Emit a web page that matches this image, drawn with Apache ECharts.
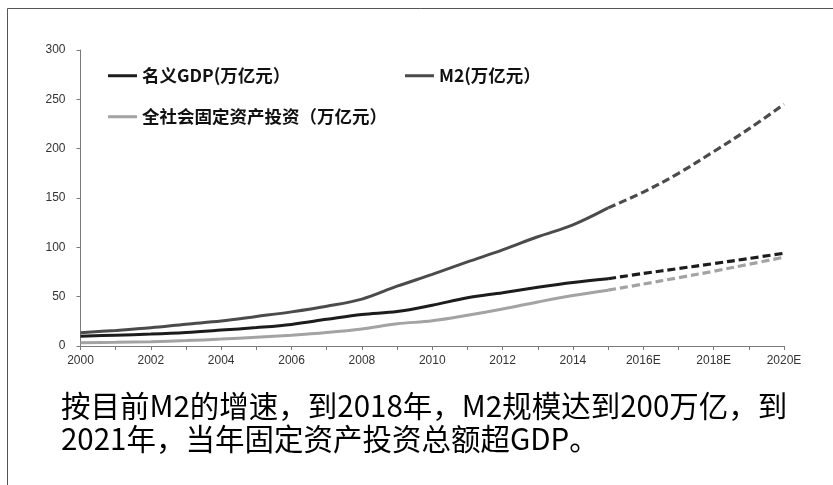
<!DOCTYPE html>
<html>
<head>
<meta charset="utf-8">
<style>
  html, body { margin: 0; padding: 0; background: #fff; }
  #chart { width: 833px; height: 485px; }
</style>
<script src="https://cdn.jsdelivr.net/npm/echarts@6/dist/echarts.min.js"></script>
</head>
<body>
<div id="chart"></div>
<script>
// Years on the x axis (E = estimate)
const years = ['2000','2001','2002','2003','2004','2005','2006','2007','2008','2009',
  '2010','2011','2012','2013','2014','2015','2016E','2017E','2018E','2019E','2020E'];

// Values in 万亿元; actual data runs through 2015, estimates from 2015 on
const gdpActual = [10.0, 11.0, 12.1, 13.7, 16.1, 18.7, 21.9, 27.0, 31.9, 34.9,
  41.3, 48.9, 54.0, 59.5, 64.4, 68.2];
const gdpEstimate = [68.2, 73.5, 78.5, 83.5, 88.7, 94.0];

const m2Actual = [13.5, 15.8, 18.5, 22.1, 25.3, 29.9, 34.6, 40.3, 47.5, 60.6,
  72.6, 85.2, 97.4, 110.7, 122.8, 140.0];
const m2Estimate = [140.0, 156.0, 175.0, 197.0, 220.0, 245.0];

const invActual = [3.3, 3.7, 4.4, 5.5, 7.0, 8.9, 11.0, 13.7, 17.3, 22.5,
  25.5, 31.1, 37.5, 44.6, 51.2, 56.6];
const invEstimate = [56.6, 62.8, 69.2, 75.8, 82.8, 90.0];

const yTicks = { min: 0, max: 300, interval: 50 };

const names = {
  gdp: '名义GDP(万亿元）',
  m2: 'M2(万亿元）',
  inv: '全社会固定资产投资（万亿元）'
};
const note1 = '按目前M2的增速，到2018年，M2规模达到200万亿，到';
const note2 = '2021年，当年固定资产投资总额超GDP。';

const colors = { gdp: '#1c1c1c', m2: '#4b4b4b', inv: '#a3a3a3' };

// Pad a run of values so it lines up with the category axis
const startIdx = years.indexOf('2015');
function actualRow(arr) {
  return years.map((_, i) => (i < arr.length ? arr[i] : null));
}
function estimateRow(arr) {
  return years.map((_, i) => (i >= startIdx ? arr[i - startIdx] : null));
}

function solid(name, key, arr) {
  return {
    name: name, type: 'line', smooth: 0.35, showSymbol: false, symbol: 'none',
    data: actualRow(arr),
    lineStyle: { color: colors[key], width: 3 },
    itemStyle: { color: colors[key] },
    z: 3
  };
}
function dashed(key, arr) {
  return {
    name: key + '-est', type: 'line', smooth: 0.35, showSymbol: false, symbol: 'none',
    data: estimateRow(arr),
    lineStyle: { color: colors[key], width: 3.2, type: [8, 4] },
    itemStyle: { color: colors[key] },
    z: 3
  };
}

const legendText = {
  fontFamily: 'Noto Sans CJK SC', fontSize: 17.5, fontWeight: 'bold', color: '#111'
};
function legendAt(name, left, top) {
  return {
    data: [name], left: left, top: top, orient: 'horizontal',
    icon: 'rect', itemWidth: 29, itemHeight: 3, padding: 0,
    textStyle: legendText, selectedMode: false
  };
}

const chart = echarts.init(document.getElementById('chart'), null, { renderer: 'canvas' });
chart.setOption({
  animation: false,
  backgroundColor: '#fff',
  grid: { left: 80.5, right: 49, top: 50, bottom: 139, containLabel: false },
  legend: [
    legendAt(names.gdp, 108, 67),
    legendAt(names.m2, 405, 67),
    legendAt(names.inv, 108, 108)
  ],
  xAxis: {
    type: 'category', data: years, boundaryGap: false,
    axisLine: { lineStyle: { color: '#7a7a7a', width: 1 } },
    axisTick: { show: true, interval: 0, length: 4, inside: false, lineStyle: { color: '#7a7a7a' } },
    axisLabel: { interval: 1, margin: 9, fontFamily: 'Liberation Sans', fontSize: 12, color: '#333' },
    splitLine: { show: false }
  },
  yAxis: {
    type: 'value', min: yTicks.min, max: yTicks.max, interval: yTicks.interval,
    axisLine: { show: true, lineStyle: { color: '#7a7a7a', width: 1 } },
    axisTick: { show: true, length: 4, lineStyle: { color: '#7a7a7a' } },
    axisLabel: { margin: 15, fontFamily: 'Liberation Sans', fontSize: 12, color: '#333' },
    splitLine: { show: false }
  },
  series: [
    solid(names.gdp, 'gdp', gdpActual),
    solid(names.m2, 'm2', m2Actual),
    solid(names.inv, 'inv', invActual),
    dashed('gdp', gdpEstimate),
    dashed('m2', m2Estimate),
    dashed('inv', invEstimate)
  ],
  graphic: [
    // frame along the top and left edges
    { type: 'line', shape: { x1: 7.5, y1: 8.5, x2: 833, y2: 8.5 }, style: { stroke: '#555', lineWidth: 1 }, silent: true },
    { type: 'line', shape: { x1: 7.5, y1: 8.5, x2: 7.5, y2: 485 }, style: { stroke: '#555', lineWidth: 1 }, silent: true },
    {
      type: 'text', left: 61, top: 391,
      style: { text: note1, fontFamily: 'Noto Sans CJK SC', fontSize: 29.5, fill: '#000' }
    },
    {
      type: 'text', left: 61, top: 424,
      style: { text: note2, fontFamily: 'Noto Sans CJK SC', fontSize: 29.5, fill: '#000' }
    }
  ]
});
</script>
</body>
</html>
